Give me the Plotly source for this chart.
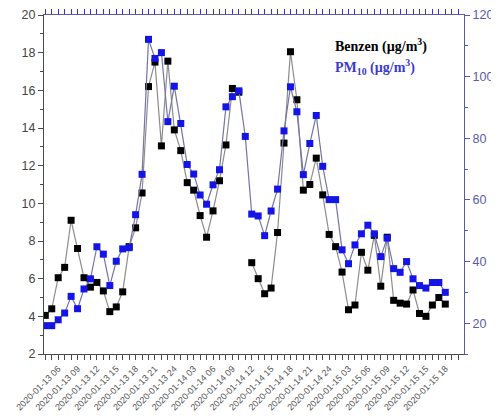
import plotly.graph_objects as go

# hourly categories (hour 24 = midnight), axis extends a little past the data
hour_labels = ([f"2020-01-13 {h:02d}" for h in range(4, 25)]
               + [f"2020-01-14 {h:02d}" for h in range(1, 25)]
               + [f"2020-01-15 {h:02d}" for h in range(1, 22)])

benzen = [4.05, 4.4, 6.05, 6.6, 9.1, 7.6, 6.05, 5.55, 5.8, 5.35,
          4.25, 4.5, 5.3, 7.7, 8.7, 10.55, 16.2, 17.5, 13.05, 17.55,
          13.9, 12.8, 11.1, 10.7, 9.35, 8.2, 9.6, 11.2, 13.1, 16.1,
          15.9, None, 6.85, 6.0, 5.2, 5.5, 8.45, 13.2, 18.05, 15.5,
          10.7, 11.0, 12.4, 10.45, 8.35, 7.7, 6.35, 4.35, 4.6, 7.4,
          6.45, 8.3, 5.6, 8.2, 4.85, 4.7, 4.65, 5.4, 4.15, 4.0,
          4.6, 5.0, 4.65]

pm10 = [19.2, 19.2, 21.1, 23.3, 28.7, 24.7, 31.1, 34.4, 44.8, 42.4,
        32.2, 40.1, 44.1, 44.5, 55.2, 68.3, 112.1, 105.9, 107.8, 85.4,
        96.9, 84.8, 71.5, 68.4, 61.6, 58.6, 64.9, 69.8, 90.2, 93.5,
        95.4, 80.6, 55.4, 54.8, 48.4, 56.4, 63.5, 82.4, 96.7, 88.6,
        68.2, 78.3, 87.4, 70.9, 60.1, 60.1, 43.8, 39.3, 45.4, 49.0,
        51.8, 49.0, 41.6, 47.6, 37.7, 36.5, 40.0, 34.4, 32.2, 31.4,
        33.2, 33.2, 30.0]

tick_labels = [hour_labels[i] for i in range(2, 63, 3)]

x_data = hour_labels[:len(benzen)]
ticktext = [lab if lab in tick_labels else " " for lab in hour_labels]

DARK = "#4a4a4a"
SLATE = "#5a5aa8"

fig = go.Figure()
fig.add_trace(go.Scatter(
    x=x_data, y=benzen, mode="lines+markers", name="Benzen",
    line=dict(color="#8c8c8c", width=1.2),
    marker=dict(symbol="square", size=7, color="#000000"),
    connectgaps=False, xaxis="x", yaxis="y"))
fig.add_trace(go.Scatter(
    x=x_data, y=pm10, mode="lines+markers", name="PM10",
    line=dict(color="#7474a8", width=1.2),
    marker=dict(symbol="square", size=7, color="#1414e6"),
    xaxis="x2", yaxis="y2"))

xcommon = dict(type="category", categoryorder="array", categoryarray=hour_labels,
               range=[-0.2, 64.9], tickmode="array", tickvals=hour_labels,
               ticks="outside", ticklen=5, tickwidth=1, showgrid=False,
               zeroline=False, automargin=False)

# the page body adds an 8 px offset; margins compensate for it
W, H = 499, 419
L, R, T, B = 36, 43, 7, 73

fig.update_layout(
    width=W, height=H,
    margin=dict(l=L, r=R, t=T, b=B),
    paper_bgcolor="white", plot_bgcolor="white",
    showlegend=False,
    font=dict(family="Liberation Sans, Arial, sans-serif", color=DARK),
    xaxis=dict(**xcommon, ticktext=ticktext, tickangle=-45,
               tickfont=dict(size=9, color="#555555"),
               showline=True, linecolor=DARK, linewidth=1.2, tickcolor=DARK),
    xaxis2=dict(**xcommon, overlaying="x", side="top", matches="x",
                showticklabels=False, showline=True, linecolor=SLATE,
                linewidth=1.2, tickcolor="#3333cc"),
    yaxis=dict(range=[2, 20], tick0=0, dtick=2, ticks="outside", ticklen=5,
               tickcolor=DARK, showline=True, linecolor=DARK, linewidth=1.2,
               showgrid=False, zeroline=False, automargin=False,
               tickfont=dict(size=12.5, color="#444444"),
               minor=dict(dtick=1, ticks="outside", ticklen=3, tickcolor=DARK)),
    yaxis2=dict(range=[10, 120], tick0=0, dtick=20, overlaying="y", side="right",
                ticks="outside", ticklen=5, tickcolor=SLATE, showline=True,
                linecolor=SLATE, linewidth=1.2, showgrid=False, zeroline=False,
                automargin=False,
                tickfont=dict(size=12.5, color=SLATE),
                minor=dict(dtick=10, ticks="outside", ticklen=3, tickcolor=SLATE)),
)

# legend texts: target page pixel positions converted to paper coordinates
OFF = 8
pw = W - L - R
ph = H - T - B
def px(x):
    return (x - OFF - L) / pw
def py(y):
    return 1 - (y - OFF - T) / ph

fig.add_annotation(x=px(333), y=py(45), xref="paper", yref="paper",
                   text="<b>Benzen (µg/m<sup>3</sup>)</b>", showarrow=False,
                   xanchor="left", yanchor="middle",
                   font=dict(family="Liberation Serif, Times New Roman, serif",
                             size=14, color="#000000"))
fig.add_annotation(x=px(333), y=py(67), xref="paper", yref="paper",
                   text="<b>PM<sub>10</sub> (µg/m<sup>3</sup>)</b>", showarrow=False,
                   xanchor="left", yanchor="middle",
                   font=dict(family="Liberation Serif, Times New Roman, serif",
                             size=14, color="#3a3acc"))

fig.write_html("out.html")
